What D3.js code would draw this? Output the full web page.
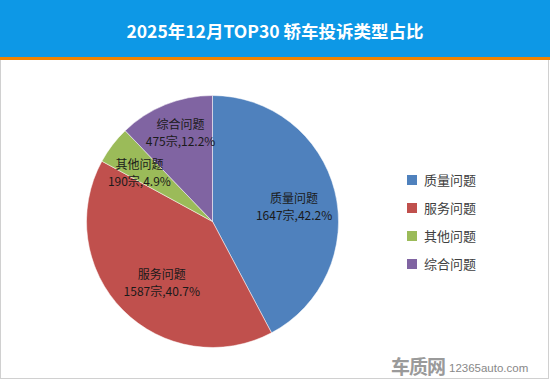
<!DOCTYPE html>
<html><head><meta charset="utf-8">
<script src="https://cdn.jsdelivr.net/npm/d3@7"></script>
<style>body{margin:0;background:#fff}svg{display:block}</style>
</head><body>
<script>
const title = "2025年12月TOP30 轿车投诉类型占比";
const categories = ["质量问题","服务问题","其他问题","综合问题"];
const counts = [1647,1587,190,475];
const percents = ["42.2%","40.7%","4.9%","12.2%"];
const colors = ["#4F81BD","#C0504D","#9BBB59","#8064A2"];

const W=550,H=380;
const svg=d3.select("body").append("svg").attr("width",W).attr("height",H);
const font="'Microsoft YaHei','Noto Sans CJK SC','Noto Sans',sans-serif";
svg.append("rect").attr("x",0).attr("y",0).attr("width",W).attr("height",H).attr("fill","#fff");
svg.append("rect").attr("x",0.5).attr("y",0.5).attr("width",W-2).attr("height",H-2).attr("fill","none").attr("stroke","#d0d0d0");
svg.append("rect").attr("x",0).attr("y",0).attr("width",W).attr("height",57).attr("fill","#0D98E6");
svg.append("rect").attr("x",0).attr("y",57).attr("width",W).attr("height",3).attr("fill","#F08300");
svg.append("text").attr("x",W/2).attr("y",38).attr("text-anchor","middle").attr("fill","#fff")
  .attr("font-family",font).attr("font-weight","bold").attr("font-size",17.5).text(title);

const cx=212.5, cy=221.5, R=126;
// best-fit label nudges (layout, in px) relative to the 0.7R centroid
const labelNudge=[[-4,6.5],[12,-1],[-3,5],[1,-7]];
const data=categories.map((c,i)=>({c,v:counts[i],p:percents[i],col:colors[i],i}));
const pie=d3.pie().value(d=>d.v).sort(null);
const arc=d3.arc().innerRadius(0).outerRadius(R);
const labArc=d3.arc().innerRadius(R*0.7).outerRadius(R*0.7);
const g=svg.append("g").attr("transform",`translate(${cx},${cy})`);
const arcs=pie(data);
g.selectAll("path").data(arcs).join("path").attr("d",arc).attr("fill",d=>d.data.col)
  .attr("stroke","#fff").attr("stroke-width",0.5);
const lab=g.selectAll("text.l").data(arcs).join("text").attr("class","l")
  .attr("transform",d=>{const c=labArc.centroid(d),n=labelNudge[d.data.i];return `translate(${c[0]+n[0]},${c[1]+n[1]})`;})
  .attr("text-anchor","middle")
  .attr("font-family",font).attr("font-size",12).attr("fill","#1a1a1a");
lab.append("tspan").attr("x",0).attr("y",-4).text(d=>d.data.c);
lab.append("tspan").attr("x",0).attr("y",13).text(d=>d.data.v+"宗,"+d.data.p);

const lg=svg.append("g").attr("transform","translate(407,175)");
const items=lg.selectAll("g").data(data).join("g").attr("transform",(d,i)=>`translate(0,${i*28})`);
items.append("rect").attr("width",10).attr("height",10).attr("fill",d=>d.col);
items.append("text").attr("x",17).attr("y",10).attr("font-family",font).attr("font-size",13)
  .attr("fill","#404040").text(d=>d.c);

svg.append("text").attr("x",391).attr("y",374).attr("font-family",font).attr("font-weight","bold")
  .attr("font-size",19).attr("fill","#9a9a9a").attr("letter-spacing",-1).text("车质网");
svg.append("text").attr("x",449).attr("y",372).attr("font-family","Arial,'Liberation Sans',sans-serif")
  .attr("font-size",11.5).attr("fill","#888").text("12365auto.com");
</script>
</body></html>
